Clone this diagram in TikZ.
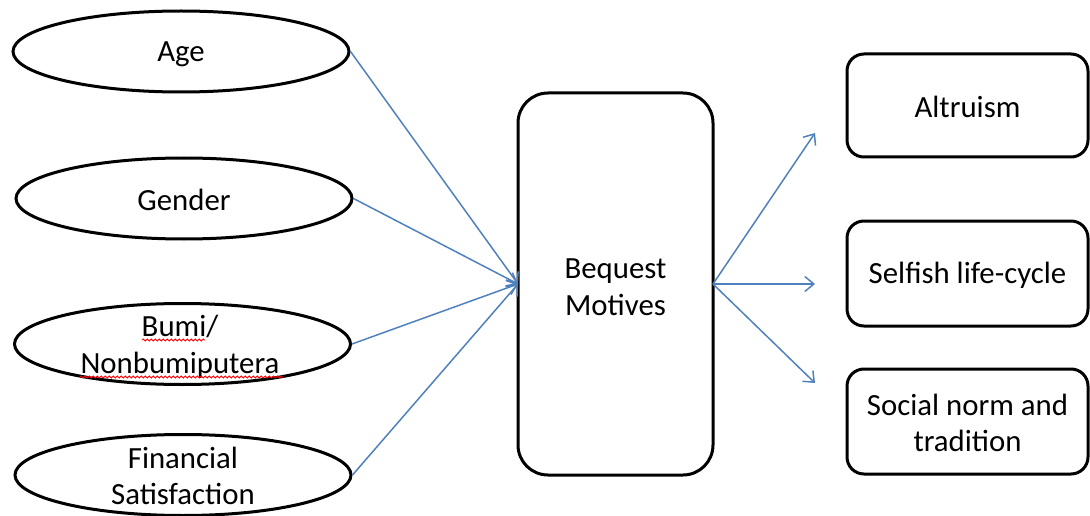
\documentclass[tikz,border=0pt]{standalone}
\usepackage{fontspec}
\setmainfont{Carlito}
\usetikzlibrary{shapes.geometric,arrows.meta,decorations.pathmorphing}
\definecolor{arrowblue}{RGB}{79,129,189}
\begin{document}
\begin{tikzpicture}[x=1pt,y=-1pt,
  every node/.style={font=\fontsize{30.8}{36.5}\selectfont},
  ell/.style={draw=black,line width=3pt,ellipse,minimum width=336pt,minimum height=81pt,inner sep=0pt},
  bigbox/.style={draw=black,line width=3pt,rounded corners=30pt,minimum width=195pt,minimum height=382pt,inner sep=0pt},
  outbox/.style={draw=black,line width=3pt,rounded corners=17pt,minimum width=241pt,inner sep=0pt},
  lbl/.style={align=center,inner sep=0pt},
  conn/.style={draw=arrowblue,line width=1.5pt,-{Straight Barb[length=9pt,width=15pt,line width=1.5pt]}},
  squig/.style={draw=red,line width=0.8pt,decorate,decoration={snake,segment length=4pt,amplitude=1pt}}
]
\useasboundingbox (0,0) rectangle (1090,516);

\node[ell] (age) at (181,51.5) {};
\node[lbl] (agel) at (181,54) {Age};
\node[ell] (gen) at (184,198.5) {};
\node[lbl] (genl) at (184,200) {Gender};
\node[ell] (bumi) at (182.5,344) {};
\node[lbl] (bumil) at (180,347) {Bumi/\\Nonbumiputera};
\node[ell] (fin) at (183,475) {};
\node[lbl] (finl) at (183,476) {Financial\\Satisfaction};

\node[bigbox] (beq) at (615.5,284) {};
\node[lbl] (beql) at (615.5,287) {Bequest\\Motives};

\node[outbox,minimum height=103pt] (alt) at (967.5,105.5) {};
\node[lbl] (altl) at (967.5,107) {Altruism};
\node[outbox,minimum height=105pt] (self) at (967.5,273.5) {};
\node[lbl] (selfl) at (967.5,275) {Selfish life-cycle};
\node[outbox,minimum height=105pt] (soc) at (967.5,421.5) {};
\node[lbl] (socl) at (967.5,423) {Social norm and\\tradition};

\coordinate (in) at (518,284);
\coordinate (out) at (713,284);
\coordinate (t1) at (815,133);
\coordinate (t2) at (815,284);
\coordinate (t3) at (815,383);

\draw[conn] (age.east) -- (in);
\draw[conn] (gen.east) -- (in);
\draw[conn] (bumi.east) -- (in);
\draw[conn] (fin.east) -- (in);
\draw[conn] (out) -- (t1);
\draw[conn] (out) -- (t2);
\draw[conn] (out) -- (t3);

\coordinate (s1a) at (142,340);
\coordinate (s1b) at (205,340);
\coordinate (s2a) at (80,377);
\coordinate (s2b) at (283,377);
\draw[squig] (s1a) -- (s1b);
\draw[squig] (s2a) -- (s2b);
\end{tikzpicture}
\end{document}
